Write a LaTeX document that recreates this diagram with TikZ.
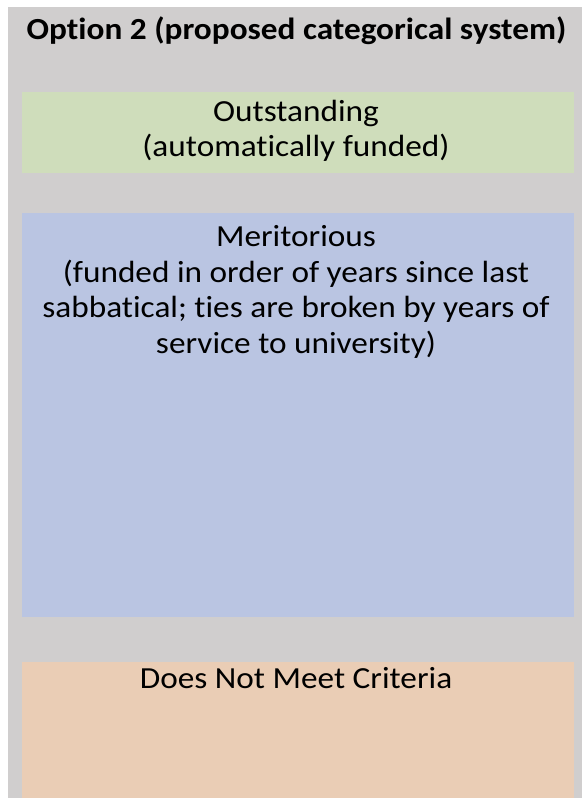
\documentclass[tikz,border=0pt]{standalone}
\usepackage{fontspec}
\setmainfont{Carlito}[FakeStretch=1.085, Ligatures=NoCommon]
\definecolor{bggray}{RGB}{208,206,206}
\definecolor{boxgreen}{RGB}{207,221,187}
\definecolor{boxblue}{RGB}{186,197,226}
\definecolor{boxorange}{RGB}{234,205,181}
\begin{document}
\begin{tikzpicture}[x=0.75pt,y=-0.75pt,
  lbl/.style={anchor=base,inner sep=0pt,font=\fontsize{23}{27}\selectfont,text=black},
  ttl/.style={lbl,font=\fontsize{23}{27}\selectfont\bfseries}]
\useasboundingbox (0,0) rectangle (582,798);
\fill[white] (0,0) rectangle (582,798);
\fill[bggray] (8,7) rectangle (582,798);
\node[ttl] (title) at (296.5,40) {Option 2 (proposed categorical system)};
\fill[boxgreen] (22,92) rectangle (574,173);
\node[lbl] (out1) at (296,122) {Outstanding};
\node[lbl] (out2) at (296,157) {(automatically funded)};
\fill[boxblue] (22,213) rectangle (574,617);
\node[lbl] (mer1) at (296,247) {Meritorious};
\node[lbl] (mer2) at (296,282) {(funded in order of years since last};
\node[lbl] (mer3) at (296,317) {sabbatical; ties are broken by years of};
\node[lbl] (mer4) at (296,353) {service to university)};
\fill[boxorange] (22,662) rectangle (574,798);
\node[lbl] (dnm) at (296,688) {Does Not Meet Criteria};
\end{tikzpicture}
\end{document}
